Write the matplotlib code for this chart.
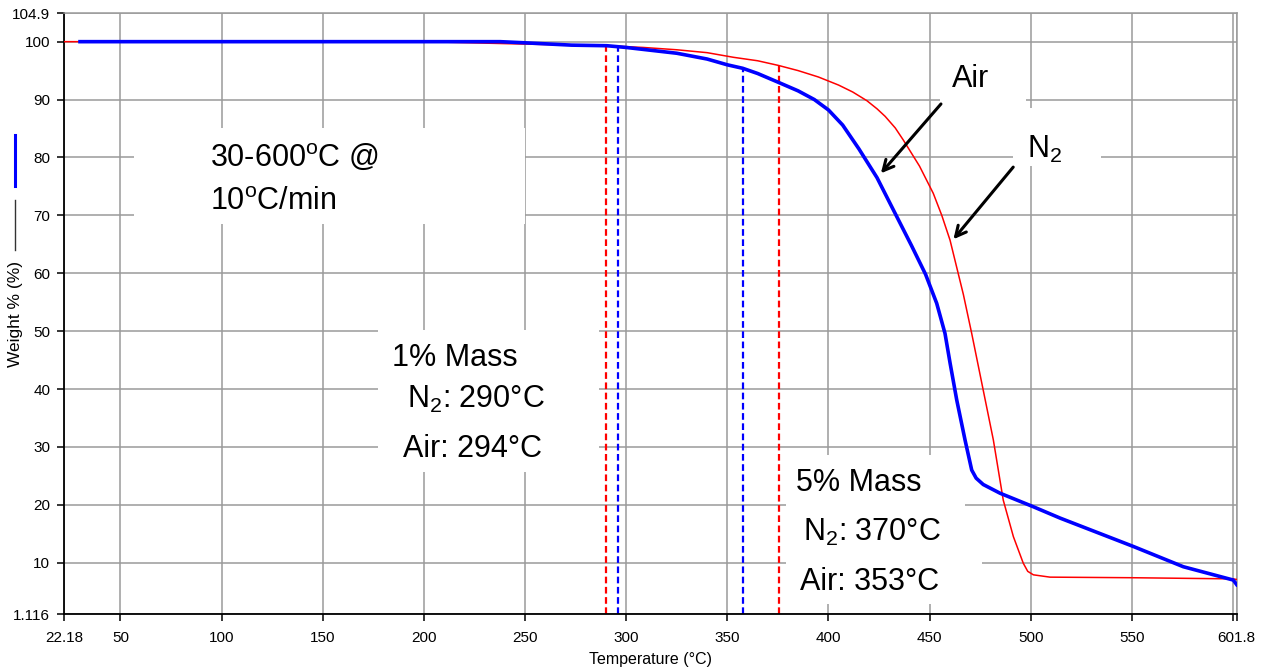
import matplotlib
matplotlib.use("Agg")
import matplotlib.pyplot as plt
from matplotlib.patches import Rectangle
from matplotlib.lines import Line2D

plt.rcParams['font.family'] = ['Liberation Sans', 'DejaVu Sans']
plt.rcParams['mathtext.fontset'] = 'custom'
plt.rcParams['mathtext.rm'] = 'Liberation Sans'
plt.rcParams['mathtext.it'] = 'Liberation Sans:italic'
plt.rcParams['mathtext.bf'] = 'Liberation Sans:bold'

# ---- data ----
air_temp = [30, 100, 200, 237.7, 250, 273, 290.4, 300, 310, 325, 340, 350,
            357.6, 365, 374.4, 385, 393, 400, 407, 415, 424, 433, 441,
            448, 453.5, 457.6, 460.1, 463.4, 467.5, 470.8, 473.0, 476.5, 484.8, 501,
            514.5, 550.7, 575.4, 600.1, 601.8]
air_weight = [100, 100, 100, 100, 99.8, 99.4, 99.3, 99.0, 98.6, 98.0, 97.0, 96.0,
              95.4, 94.5, 93.1, 91.5, 90.0, 88.2, 85.6, 81.5, 76.5, 70.3, 64.8,
              59.8, 54.8, 49.6, 44.5, 38.1, 31.2, 26.0, 24.6, 23.5, 22.0, 19.7,
              17.7, 12.8, 9.3, 7.0, 6.2]

n2_temp = [22.18, 100, 200, 247.5, 290, 308.5, 325, 340, 353, 365, 375.2, 385,
           395, 405, 412, 419, 424, 428, 433, 437, 445, 451.8, 456, 460.1, 466.7,
           470.8, 476.5, 481.5, 486.4, 491.4, 496.3, 498.5, 501.3, 509.5, 550, 600, 601.8]
n2_weight = [100, 100, 100, 99.6, 99.3, 99.0, 98.6, 98.1, 97.3, 96.7, 95.9, 95.0,
             93.9, 92.5, 91.3, 89.8, 88.4, 87.1, 85.1, 83.0, 78.5, 73.8, 70.0, 65.7,
             56.3, 49.6, 39.8, 31.2, 20.8, 14.5, 9.9, 8.5, 7.9, 7.5, 7.4, 7.2, 7.1]

# onset markers: (temperature, weight at curve, colour)
mark_temp = [290.0, 295.8, 357.6, 375.5]
mark_weight = [99.3, 99.0, 95.4, 96.0]
mark_color = ['#ff0000', '#0000ff', '#0000ff', '#ff0000']

x_ticks = [22.18, 50, 100, 150, 200, 250, 300, 350, 400, 450, 500, 550, 600, 601.8]
x_labels = ['22.18', '50', '100', '150', '200', '250', '300', '350', '400', '450',
            '500', '550', '', '601.8']
y_ticks = [1.116, 10, 20, 30, 40, 50, 60, 70, 80, 90, 100, 104.9]
y_labels = ['1.116', '10', '20', '30', '40', '50', '60', '70', '80', '90', '100', '104.9']

W, H = 1266, 671
fig = plt.figure(figsize=(W / 100, H / 100), dpi=100)
ax = fig.add_axes([64.2 / W, 1 - 614.1 / H, (1236.7 - 64.2) / W, (614.1 - 13.3) / H])
ax.set_xlim(22.18, 601.8)
ax.set_ylim(1.116, 104.9)

ax.set_xticks(x_ticks)
ax.set_xticklabels(x_labels)
ax.set_yticks(y_ticks)
ax.set_yticklabels(y_labels)
ax.tick_params(axis='both', labelsize=11, color='black', length=5, width=1.1)
ax.tick_params(axis='y', pad=5)
ax.tick_params(axis='x', pad=7)
ax.set_axisbelow(True)
ax.grid(True, color='#9a9a9a', lw=1.1, zorder=0)

for s in ['left', 'bottom']:
    ax.spines[s].set_color('black')
    ax.spines[s].set_linewidth(1.3)
for s in ['top', 'right']:
    ax.spines[s].set_color('#9a9a9a')
    ax.spines[s].set_linewidth(1.1)

ax.set_xlabel('Temperature (°C)', fontsize=11.5, labelpad=5)
ax.set_ylabel('Weight % (%)', fontsize=12.5)
ax.yaxis.set_label_coords(-0.0348, 0.5)

# white text boxes that mask the grid
boxes = [(56.7, 68.5, 250.0 - 56.7, 85.1 - 68.5),
         (177.3, 25.7, 286.5 - 177.3, 50.2 - 25.7),
         (379.0, 2.8, 467.5 - 379.0, 28.6 - 2.8),
         (379.0, 4.0, 476.0 - 379.0, 12.5 - 4.0),
         (455.2, 89.4, 497.7 - 455.2, 98.6 - 89.4),
         (491.2, 78.5, 534.7 - 491.2, 88.5 - 78.5)]
for (bx, by, bw, bh) in boxes:
    ax.add_patch(Rectangle((bx, by), bw, bh, facecolor='white', edgecolor='none', zorder=1))

# curves
ax.plot(n2_temp, n2_weight, color='#ff0000', lw=1.1, zorder=3)
ax.plot(air_temp, air_weight, color='#0000ff', lw=2.6, zorder=4, solid_joinstyle='round')

# dashed onset lines
for t, w, c in zip(mark_temp, mark_weight, mark_color):
    ax.plot([t, t], [1.116, w], color=c, lw=1.6, ls=(0, (3, 1.6)), zorder=2.5)

fs = 22
ax.text(94.2, 78.5, r'30-600$^{\mathrm{o}}$C @', fontsize=fs, ha='left', va='baseline', zorder=5)
ax.text(94.2, 70.9, r'10$^{\mathrm{o}}$C/min', fontsize=fs, ha='left', va='baseline', zorder=5)

ax.text(184.1, 43.9, '1% Mass', fontsize=fs, ha='left', va='baseline', zorder=5)
ax.text(191.5, 36.7, r'N$_2$: 290°C', fontsize=fs, ha='left', va='baseline', zorder=5)
ax.text(189.8, 28.3, 'Air: 294°C', fontsize=fs, ha='left', va='baseline', zorder=5)

ax.text(384.0, 22.3, '5% Mass', fontsize=fs, ha='left', va='baseline', zorder=5)
ax.text(387.3, 13.75, r'N$_2$: 370°C', fontsize=fs, ha='left', va='baseline', zorder=5)
ax.text(386.0, 5.3, 'Air: 353°C', fontsize=fs, ha='left', va='baseline', zorder=5)

ax.text(460.9, 92.2, 'Air', fontsize=fs, ha='left', va='baseline', zorder=5)
ax.text(498.0, 79.9, r'N$_2$', fontsize=fs, ha='left', va='baseline', zorder=5)

arrow_kw = dict(arrowstyle='->,head_length=0.75,head_width=0.38', lw=2.2, color='black')
ax.annotate('', xy=(425.0, 76.9), xytext=(456.5, 89.6), arrowprops=arrow_kw, zorder=6)
ax.annotate('', xy=(460.9, 65.5), xytext=(492.2, 78.7), arrowprops=arrow_kw, zorder=6)

# small series indicators next to the y label
fig.add_artist(Line2D([15 / W, 15 / W], [1 - 135 / H, 1 - 186 / H], color='#0000ff', lw=2.2,
                      transform=fig.transFigure))
fig.add_artist(Line2D([15 / W, 15 / W], [1 - 200 / H, 1 - 250 / H], color='#333333', lw=1.0,
                      transform=fig.transFigure))

fig.savefig('out.png', dpi=100)
